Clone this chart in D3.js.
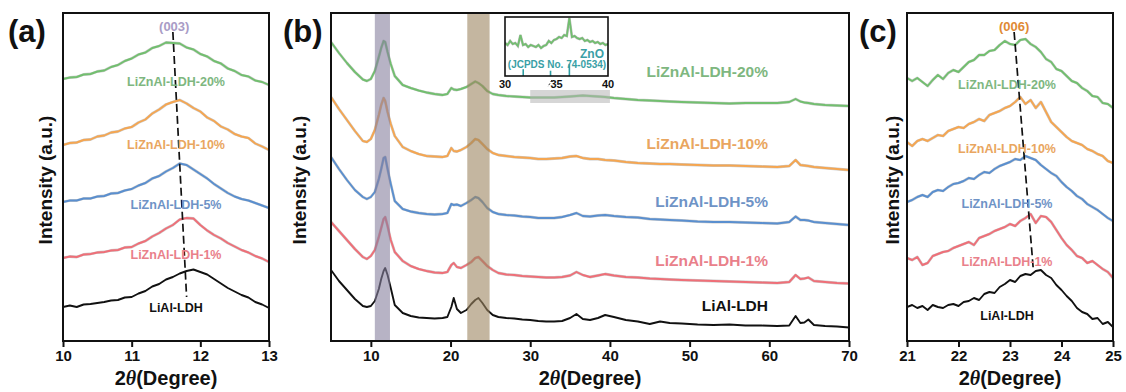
<!DOCTYPE html>
<html>
<head>
<meta charset="utf-8">
<script src="https://cdn.jsdelivr.net/npm/d3@7"></script>
<style>
  body { margin: 0; background: #fff; }
  text { font-family: Arial, "Liberation Sans", Helvetica, sans-serif; font-weight: bold; }
</style>
</head>
<body>
<svg id="chart" width="1126" height="392"></svg>
<script>
// ---------- sample names ----------
const sampleNames = ["LiAl-LDH", "LiZnAl-LDH-1%", "LiZnAl-LDH-5%", "LiZnAl-LDH-10%", "LiZnAl-LDH-20%"];

// ---------- panel (a): (003) reflection, offset intensities (a.u.) ----------
const aTheta = [10.0,10.1,10.2,10.3,10.4,10.5,10.6,10.7,10.8,10.9,11.0,11.1,11.2,11.3,11.4,11.5,11.6,11.7,11.8,11.9,12.0,12.1,12.2,12.3,12.4,12.5,12.6,12.7,12.8,12.9,13.0];
const aLiAl = [34,35.5,34,36.5,37,38,39,40.5,41,43.5,44,47.5,50,54.5,57,61.5,64,67.5,70,71.5,69,66.5,62,57.5,53,49.5,46,43.5,39,36.5,33];
const aZn1  = [83,84.5,84,86.5,87,88.5,89,90.5,91,93.5,94,97.5,100,104.5,108,112.5,116,121.5,123,122.5,116,110.5,106,102.5,98,94.5,91,88.5,85,82.5,79];
const aZn5  = [139,140.5,140.5,142.5,142.5,144.5,145,147.5,148,150.5,152,155.5,158,162.5,165,169.5,173,177.5,176,171.5,167,162.5,157,152.5,148,144.5,142,140.5,138,135.5,133];
const aZn10 = [196,198,198.5,201,201.5,204.5,205.5,208.5,209.5,212.5,214,218.5,221.5,227.5,231.5,236.5,239,241,237.5,233,229.5,223.5,220,214.5,211.5,207,204.5,203,197.5,194.5,191];
const aZn20 = [262,263.5,264,266.5,267,269.5,270.5,274,276,280,282.5,286.5,288.5,293,295,298.5,298,297.5,293.5,291.5,287,284.5,280,277.5,272.5,270,266,264.5,260.5,259,256];
const aTicks = [10, 11, 12, 13];
const aPeakShift = { theta: [11.60, 11.80], level: [309, 44] };

// ---------- panel (b): full patterns 5-70 deg ----------
const bTheta = [5,6,7,8,9,9.5,10,10.5,11,11.3,11.6,11.8,12.1,12.5,13,14,15,16,17,18,19,19.6,20.1,20.4,20.8,21.3,22,22.6,23.1,23.5,24,24.6,25.3,26,27,28,29,30,31,32,33,34,35,35.8,36.6,37.5,38.5,39.4,40.5,42,43.5,45,46.3,47.5,49,51,53,55,57,59,61,62.5,63.3,63.9,64.4,64.9,65.6,67,68.5,70];
const bLiAl = [71,60,51,42,35, 34,35,40,52,62, 70,73,66,53,36, 28,25,23.5,23,22.5, 23,24,34,43,32, 28,31,37,41,43, 38,31,26,24,23, 22.5,21.5,21,20,19.5, 19.5,20,23,27,22, 21,23,26,24,21, 19.5,17,19.5,18,17.5, 16.5,16,16.5,15.5,15.5, 15,15.5,25,18,18.5, 21.5,16,15,14.5,13.5];
const bZn1  = [119,110,101,92,84, 82,85,91,104,113, 122,124,115,101,89, 80,75,72,70,68.5, 68,69,76,78,74, 73,76,79,83,84, 80,75,71,68,66.5, 66,65,64.5,64,63.5, 63.5,64,65.5,69,66, 64,65.5,67,65.5,64, 63.5,62.5,62,61.5,61, 60.5,60,59.5,59,58.5, 58,59,66,62,62.5, 63.5,60,59,58,57.5];
const bZn5  = [184,172,161,151,144, 142,144,149,162,172, 183,184,172,157,140, 132,129.5,128,127,126.5, 127,128,137,136,136.5, 135,138,141,144,143, 139,133,129,127,126, 125.5,124.5,124,123,123, 123,124,126,128,125, 124.5,125.5,126,125,124, 123.5,122,121.5,121,120.5, 119.5,119,119,118.5,118, 117.5,119,124.5,121,121, 120.5,119,118,117,116];
const bZn10 = [244,232,221,210,200, 199,202,211,226,236, 243,240,229,217,205, 194,190,187,185,184.5, 184,185,193,190,189.5, 191,194,198,202,201, 197,192,188,186,185, 184,183.5,183,182,182, 182.5,183,184.5,185,183, 182,182,181,180.5,179, 178,177.5,177,177,176.5, 176,175.5,175.5,175,174.5, 174,175,181,176,175.5, 175,174,173,172,171];
const bZn20 = [299,288,278,269,261.5, 260,262,270,284,293, 300,299,289,277,265, 256,253,250.5,248.5,247, 246,247,253,251.5,251, 252,254,257,259.5,258, 255,250,247,246,245, 244.5,244,243.5,243.5,243.5, 243.5,244,244.5,245,245.5, 245,244.5,244,243,242, 241,240.5,240,239.5,239, 238.5,238,237.5,238,238, 238,239,242,239.5,238.5, 238,237,236,235.5,235];
const bTicks = [10, 20, 30, 40, 50, 60, 70];
const bBands = [[10.5, 12.4], [22.1, 24.9]];
const bZoomWindow = { theta: [30, 40], level: [238, 251] };

// ---------- inset of (b): LiZnAl-LDH-20%, 30-40 deg ----------
const insetTheta = [30,30.25,30.5,30.75,31,31.25,31.5,31.75,32,32.25,32.5,32.75,33,33.25,33.5,33.75,34,34.25,34.5,34.75,35,35.25,35.5,35.75,36,36.25,36.5,36.75,37,37.25,37.5,37.75,38,38.25,38.5,38.75,39,39.25,39.5,39.75,40];
const insetZn20 = [33,31,35,32,33,30,41,31,32,29,31,30,29,31,28,30,31,35,33,36,37,39,38,41,40,58,39,40,38,37,38,35,36,34,35,33,34,32,33,31,32];
const insetTicks = [30, 35, 40];
const znoRefTheta = [31.77, 34.42, 36.25];   // ZnO, JCPDS No. 74-0534
const znoRefInt = [57, 44, 100];

// ---------- panel (c): (006) reflection ----------
const cTheta = [21.0,21.1,21.2,21.3,21.4,21.5,21.6,21.7,21.8,21.9,22.0,22.1,22.2,22.3,22.4,22.5,22.6,22.7,22.8,22.9,23.0,23.1,23.2,23.3,23.4,23.5,23.6,23.7,23.8,23.9,24.0,24.1,24.2,24.3,24.4,24.5,24.6,24.7,24.8,24.9,25.0];
const cLiAl = [34,36,33,35,31,36,34,33,36,37,35,39,40,43,41,47,49,48,54,57,61,59,65,67,66,70,71,66,63,56,51,45,40,33,29,27,22,23,17,19,14];
const cZn1  = [83,81,84,76,78,85,87,89,90,93,95,97,99,96,103,105,107,110,112,114,117,115,120,123,127,118,125,124,119,111,103,96,91,85,83,78,80,76,72,69,63];
const cZn5  = [139,141,144,146,144,149,151,150,154,157,158,160,163,162,166,169,168,172,175,177,179,182,181,185,183,181,176,172,168,165,159,154,150,145,142,137,134,131,127,123,120];
const cZn10 = [199,195,200,202,200,203,206,205,210,212,214,213,217,219,222,220,226,228,230,233,235,239,244,237,241,233,239,229,219,214,209,204,200,198,196,192,190,187,185,180,178];
const cZn20 = [263,260,263,259,255,261,266,262,268,271,269,274,279,281,286,286,290,291,296,300,297,296,301,302,297,294,289,282,279,272,270,265,260,258,253,250,245,244,238,237,233];
const cTicks = [21, 22, 23, 24, 25];
const cPeakShift = { theta: [23.08, 23.45], level: [309, 73] };

// ---------- styling ----------
const lineColors  = ["#111111", "#ef6f78", "#5a8fcf", "#f5a651", "#72bf6f"];
const labelColors = ["#111111", "#e9808a", "#6e93c6", "#e9a660", "#7eb77f"];

const svg = d3.select("#chart");
const plotTop = 13, plotBottom = 341;
const y = d3.scaleLinear().domain([0, 328]).range([plotBottom, plotTop]);

const panels = [
  { key: "a", left: 63,  right: 269, domain: [10, 13], ticks: aTicks, theta: aTheta,
    series: [aLiAl, aZn1, aZn5, aZn10, aZn20],
    labelX: 176, labelY: [312, 259, 209, 149, 86], labelSize: 12.5, labelAnchor: "middle",
    tag: "(a)", tagX: 8, titleX: 45 },
  { key: "b", left: 331, right: 849, domain: [5, 70], ticks: bTicks, theta: bTheta,
    series: [bLiAl, bZn1, bZn5, bZn10, bZn20],
    labelX: 768, labelY: [311, 266, 207, 149, 77], labelSize: 15.5, labelAnchor: "end",
    tag: "(b)", tagX: 283, titleX: 299 },
  { key: "c", left: 907, right: 1113, domain: [21, 25], ticks: cTicks, theta: cTheta,
    series: [cLiAl, cZn1, cZn5, cZn10, cZn20],
    labelX: 1007, labelY: [320, 266, 208, 153, 89], labelSize: 12.5, labelAnchor: "middle",
    tag: "(c)", tagX: 859, titleX: 892 }
];

panels.forEach(p => {
  const x = d3.scaleLinear().domain(p.domain).range([p.left, p.right]);
  p.x = x;
  const g = svg.append("g").attr("class", "panel-" + p.key);

  const clipId = "clip-" + p.key;
  svg.append("clipPath").attr("id", clipId)
    .append("rect").attr("x", p.left).attr("y", plotTop)
    .attr("width", p.right - p.left).attr("height", plotBottom - plotTop);

  const plot = g.append("g").attr("clip-path", `url(#${clipId})`);
  const line = d3.line().x((d, i) => x(p.theta[i])).y(d => y(d));

  p.series.forEach((vals, k) => {
    plot.append("path").datum(vals)
      .attr("d", line)
      .attr("fill", "none")
      .attr("stroke", "#6a6a6a")
      .attr("stroke-opacity", k === 0 ? 0 : 0.35)
      .attr("stroke-width", 2.8)
      .attr("stroke-linejoin", "round");
    plot.append("path").datum(vals)
      .attr("d", line)
      .attr("fill", "none")
      .attr("stroke", lineColors[k])
      .attr("stroke-width", 1.9)
      .attr("stroke-linejoin", "round");
  });
  p.plot = plot;
  p.g = g;
});

// ---------- panel (b) extras: highlighted bands, zoom window, inset ----------
{
  const p = panels[1], x = p.x;
  const bandFill = ["#87809f", "#9c8560"];
  bBands.forEach((b, i) => {
    p.plot.append("rect")
      .attr("x", x(b[0])).attr("width", x(b[1]) - x(b[0]))
      .attr("y", plotTop).attr("height", plotBottom - plotTop)
      .attr("fill", bandFill[i]).attr("fill-opacity", 0.6);
  });
  p.plot.append("rect")
    .attr("x", x(bZoomWindow.theta[0])).attr("width", x(bZoomWindow.theta[1]) - x(bZoomWindow.theta[0]))
    .attr("y", y(bZoomWindow.level[1])).attr("height", y(bZoomWindow.level[0]) - y(bZoomWindow.level[1]))
    .attr("fill", "#b4b4b4").attr("fill-opacity", 0.55);

  // inset
  const ix = d3.scaleLinear().domain([30, 40]).range([505, 608]);
  const iy = d3.scaleLinear().domain([0, 59]).range([76, 17]);
  const ih = d3.scaleLinear().domain([0, 100]).range([0, 12]);
  const ig = svg.append("g").attr("class", "inset");
  ig.append("rect").attr("x", ix(30)).attr("y", iy(59))
    .attr("width", ix(40) - ix(30)).attr("height", iy(0) - iy(59))
    .attr("fill", "#fff");
  svg.append("clipPath").attr("id", "clip-inset")
    .append("rect").attr("x", ix(30)).attr("y", iy(59))
    .attr("width", ix(40) - ix(30)).attr("height", iy(0) - iy(59));
  const il = d3.line().x((d, i) => ix(insetTheta[i])).y(d => iy(d));
  const ic = ig.append("g").attr("clip-path", "url(#clip-inset)");
  ic.append("path").datum(insetZn20).attr("d", il).attr("fill", "none")
    .attr("stroke", "#777").attr("stroke-opacity", 0.5).attr("stroke-width", 2.6);
  ic.append("path").datum(insetZn20).attr("d", il).attr("fill", "none")
    .attr("stroke", lineColors[4]).attr("stroke-width", 1.7);
  znoRefTheta.forEach((t, i) => {
    ig.append("line").attr("x1", ix(t)).attr("x2", ix(t))
      .attr("y1", iy(0)).attr("y2", iy(0) - ih(znoRefInt[i]))
      .attr("stroke", "#2f9ea3").attr("stroke-width", 1.6);
  });
  ig.append("text").attr("x", 604).attr("y", 58).attr("text-anchor", "end")
    .attr("font-size", 12).attr("fill", "#3a9fa6").text("ZnO");
  ig.append("text").attr("x", 557).attr("y", 68).attr("text-anchor", "middle")
    .attr("font-size", 10).attr("fill", "#3a9fa6").text("(JCPDS No. 74-0534)");
  ig.append("rect").attr("x", ix(30)).attr("y", iy(59))
    .attr("width", ix(40) - ix(30)).attr("height", iy(0) - iy(59))
    .attr("fill", "none").attr("stroke", "#111").attr("stroke-width", 1.6);
  insetTicks.forEach(t => {
    ig.append("text").attr("x", ix(t)).attr("y", 88).attr("text-anchor", "middle")
      .attr("font-size", 11).attr("fill", "#111").text(t);
  });
  ig.append("line").attr("x1", ix(34.55)).attr("x2", ix(34.15))
    .attr("y1", 80).attr("y2", 87)
    .attr("stroke", "#333").attr("stroke-width", 1).attr("stroke-dasharray", "2,2");
}

// ---------- peak-shift guides ----------
[[panels[0], aPeakShift], [panels[2], cPeakShift]].forEach(([p, s]) => {
  p.g.append("line")
    .attr("x1", p.x(s.theta[0])).attr("y1", y(s.level[0]))
    .attr("x2", p.x(s.theta[1])).attr("y2", y(s.level[1]))
    .attr("stroke", "#111").attr("stroke-width", 1.7).attr("stroke-dasharray", "8,4");
});
panels[0].g.append("text").attr("x", panels[0].x(11.62)).attr("y", 31)
  .attr("text-anchor", "middle").attr("font-size", 13).attr("fill", "#a99cc6").text("(003)");
panels[2].g.append("text").attr("x", panels[2].x(23.08)).attr("y", 31)
  .attr("text-anchor", "middle").attr("font-size", 13).attr("fill", "#e08a35").text("(006)");

// ---------- frames, axes, labels ----------
panels.forEach(p => {
  const g = p.g;
  g.append("rect").attr("x", p.left).attr("y", plotTop)
    .attr("width", p.right - p.left).attr("height", plotBottom - plotTop)
    .attr("fill", "none").attr("stroke", "#111").attr("stroke-width", 2);

  const axis = d3.axisBottom(p.x).tickValues(p.ticks).tickSize(6).tickSizeOuter(0).tickFormat(d3.format("d"));
  const ag = g.append("g").attr("transform", `translate(0,${plotBottom})`).call(axis);
  ag.select(".domain").remove();
  ag.selectAll(".tick line").attr("stroke", "#111").attr("stroke-width", 2);
  ag.selectAll(".tick text").attr("font-size", 15).attr("fill", "#111")
    .attr("y", 9).attr("dy", "0.71em")
    .style("font-family", "Arial, 'Liberation Sans', sans-serif").style("font-weight", "bold");

  // x title
  const xt = g.append("text").attr("x", (p.left + p.right) / 2).attr("y", 385)
    .attr("text-anchor", "middle").attr("font-size", 20).attr("fill", "#111");
  xt.append("tspan").text("2");
  xt.append("tspan").attr("font-style", "italic").attr("font-family", "'Times New Roman', 'Liberation Serif', serif").text("θ");
  xt.append("tspan").text("(Degree)");

  // y title
  g.append("text")
    .attr("transform", `translate(${p.titleX},${(plotTop + plotBottom) / 2 + 3}) rotate(-90)`)
    .attr("text-anchor", "middle").attr("dy", "0.35em")
    .attr("font-size", 19).attr("fill", "#111").text("Intensity (a.u.)");

  // panel tag
  g.append("text").attr("x", p.tagX).attr("y", 42)
    .attr("font-size", 31).attr("fill", "#111").text(p.tag);

  // curve labels
  sampleNames.forEach((name, k) => {
    g.append("text").attr("x", p.labelX).attr("y", p.labelY[k])
      .attr("text-anchor", p.labelAnchor).attr("font-size", p.labelSize)
      .attr("fill", labelColors[k]).text(name);
  });
});
</script>
</body>
</html>
